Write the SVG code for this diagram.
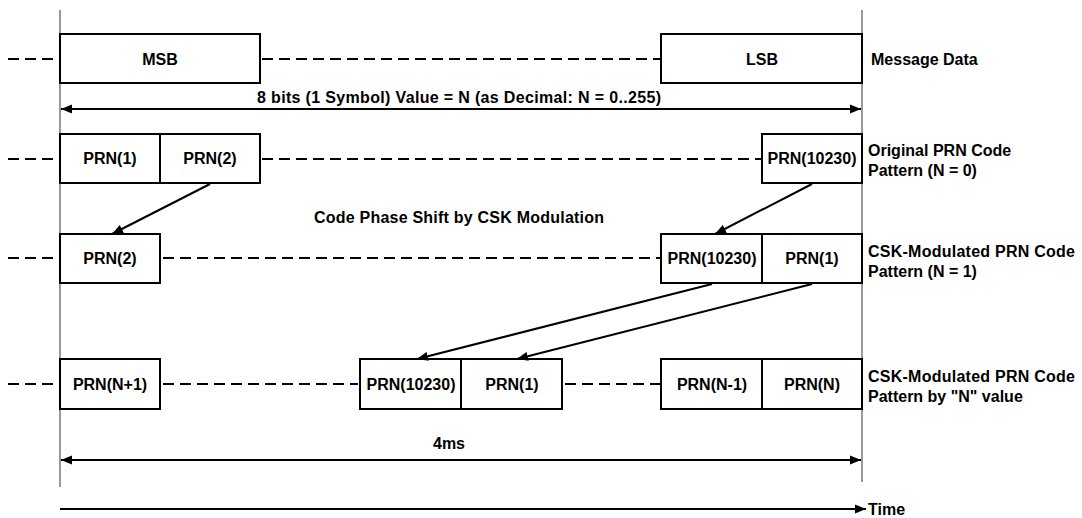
<svg xmlns="http://www.w3.org/2000/svg" width="1082" height="518" viewBox="0 0 1082 518">
<style>
.bg{fill:#fff}
.box{fill:#fff;stroke:#000;stroke-width:2}
.t{font-family:"Liberation Sans",Arial,sans-serif;font-weight:bold;font-size:16px;fill:#000}
.c{text-anchor:middle}
.dash{stroke:#000;stroke-width:2;stroke-dasharray:11 6;fill:none}
.ln{stroke:#000;stroke-width:2;fill:none}
.vl{stroke:#333;stroke-width:1;fill:none}
</style>
<defs>
<marker id="ah" markerUnits="userSpaceOnUse" markerWidth="12" markerHeight="10" viewBox="0 0 12 10" refX="11" refY="5" orient="auto-start-reverse">
<path d="M0,0.5 L11,5 L0,9.5 z" fill="#000"/>
</marker>
</defs>
<rect class="bg" x="0" y="0" width="1082" height="518"/>
<g id="timeline-guides">
<line class="vl" x1="60" y1="10" x2="60" y2="487"/>
<line class="vl" x1="862" y1="10" x2="862" y2="482"/>
</g>
<g id="dashes">
<line class="dash" x1="8" y1="59" x2="57" y2="59"/>
<line class="dash" x1="262" y1="59" x2="660" y2="59"/>
<line class="dash" x1="8" y1="159" x2="57" y2="159"/>
<line class="dash" x1="262" y1="159" x2="761" y2="159"/>
<line class="dash" x1="8" y1="258" x2="57" y2="258"/>
<line class="dash" x1="163" y1="258" x2="660" y2="258"/>
<line class="dash" x1="8" y1="384" x2="57" y2="384"/>
<line class="dash" x1="163" y1="384" x2="358" y2="384"/>
<line class="dash" x1="565" y1="384" x2="660" y2="384"/>
</g>
<g id="row1">
<g id="msb"><rect class="box" x="60" y="34" width="200" height="49"/><text class="t c" x="160" y="65">MSB</text></g>
<g id="lsb"><rect class="box" x="661" y="34" width="201" height="49"/><text class="t c" x="762" y="65">LSB</text></g>
<text id="lbl-msg" class="t" x="871" y="65">Message Data</text>
</g>
<g id="row2">
<g id="r2-prn1"><rect class="box" x="60" y="134" width="100" height="49"/><text class="t c" x="110" y="164">PRN(1)</text></g>
<g id="r2-prn2"><rect class="box" x="160" y="134" width="100" height="49"/><text class="t c" x="210" y="164">PRN(2)</text></g>
<g id="r2-prn10230"><rect class="box" x="762" y="134" width="100" height="49"/><text class="t c" x="812" y="164">PRN(10230)</text></g>
<text id="lbl-orig" class="t" x="868" y="156">Original PRN Code<tspan x="868" y="176">Pattern (N = 0)</tspan></text>
</g>
<g id="row3">
<g id="r3-prn2"><rect class="box" x="60" y="234" width="100" height="49"/><text class="t c" x="110" y="264">PRN(2)</text></g>
<g id="r3-prn10230"><rect class="box" x="661" y="234" width="101" height="49"/><text class="t c" x="712" y="264">PRN(10230)</text></g>
<g id="r3-prn1"><rect class="box" x="762" y="234" width="100" height="49"/><text class="t c" x="812" y="264">PRN(1)</text></g>
<text id="lbl-csk1" class="t" x="868" y="257"><tspan textLength="207" lengthAdjust="spacing">CSK-Modulated PRN Code</tspan><tspan x="868" y="277">Pattern (N = 1)</tspan></text>
</g>
<g id="row4">
<g id="r4-prnn1"><rect class="box" x="60" y="359" width="100" height="50"/><text class="t c" x="110" y="390">PRN(N+1)</text></g>
<g id="r4-prn10230"><rect class="box" x="360" y="359" width="101" height="50"/><text class="t c" x="411" y="390">PRN(10230)</text></g>
<g id="r4-prn1"><rect class="box" x="461" y="359" width="101" height="50"/><text class="t c" x="512" y="390">PRN(1)</text></g>
<g id="r4-prnnm1"><rect class="box" x="661" y="359" width="101" height="50"/><text class="t c" x="712" y="390">PRN(N-1)</text></g>
<g id="r4-prnn"><rect class="box" x="762" y="359" width="100" height="50"/><text class="t c" x="812" y="390">PRN(N)</text></g>
<text id="lbl-cskn" class="t" x="868" y="382"><tspan textLength="207" lengthAdjust="spacing">CSK-Modulated PRN Code</tspan><tspan x="868" y="402">Pattern by "N" value</tspan></text>
</g>
<g id="connectors">
<line class="ln" x1="61" y1="109" x2="861" y2="109" marker-start="url(#ah)" marker-end="url(#ah)"/>
<line class="ln" x1="210" y1="184" x2="112" y2="234" marker-end="url(#ah)"/>
<line class="ln" x1="812" y1="184" x2="715" y2="234" marker-end="url(#ah)"/>
<line class="ln" x1="712" y1="284" x2="417" y2="359" marker-end="url(#ah)"/>
<line class="ln" x1="812" y1="284" x2="517" y2="359" marker-end="url(#ah)"/>
<line class="ln" x1="61" y1="460" x2="861" y2="460" marker-start="url(#ah)" marker-end="url(#ah)"/>
<line class="ln" x1="60" y1="509" x2="866" y2="509" marker-end="url(#ah)"/>
</g>
<g id="annotations">
<text class="t c" x="459" y="103" textLength="404" lengthAdjust="spacing">8 bits (1 Symbol) Value = N (as Decimal:  N = 0..255)</text>
<text class="t" x="314" y="223" textLength="290" lengthAdjust="spacing">Code Phase Shift by CSK Modulation</text>
<text class="t c" x="449" y="449">4ms</text>
<text class="t" x="868" y="515">Time</text>
</g>
</svg>
